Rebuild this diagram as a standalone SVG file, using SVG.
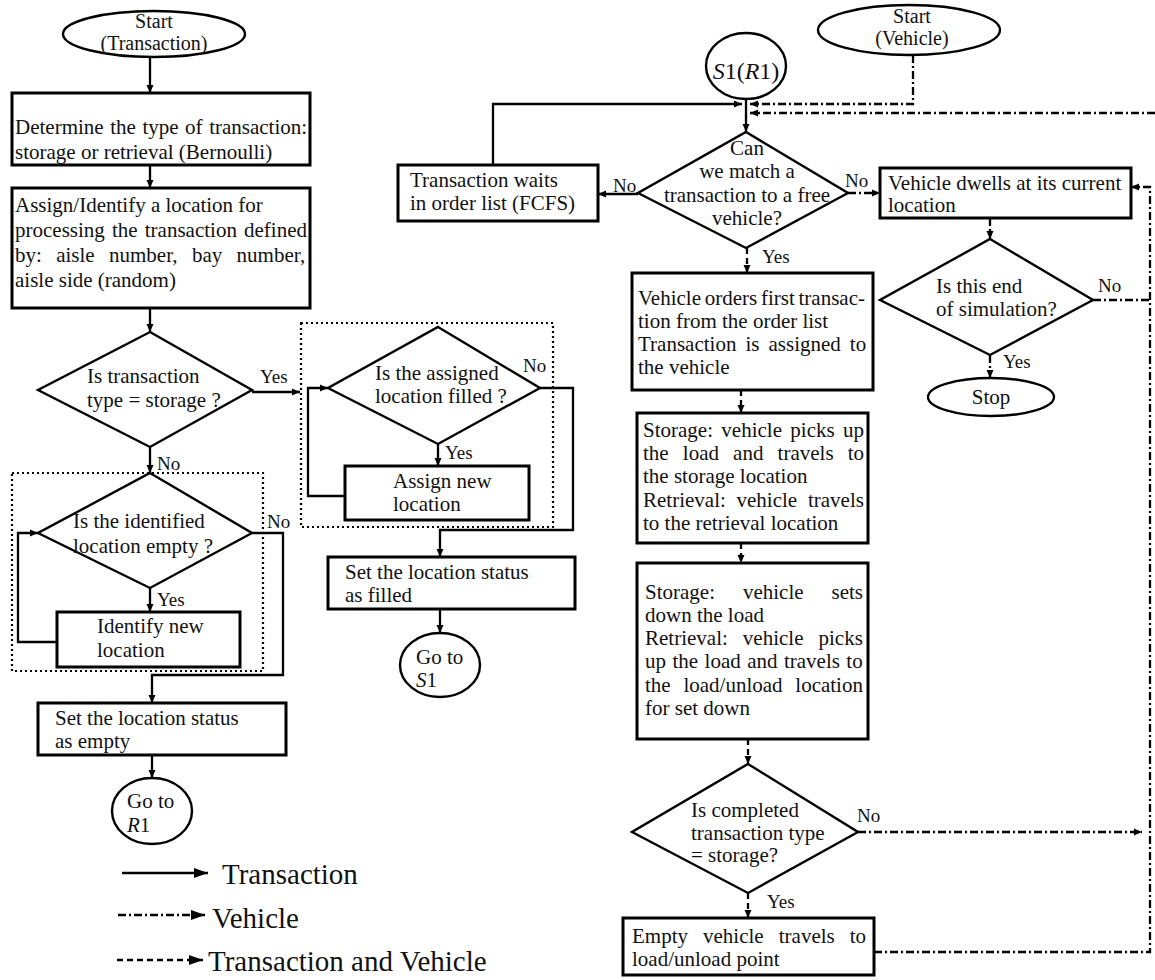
<svg xmlns="http://www.w3.org/2000/svg" width="1155" height="980" viewBox="0 0 1155 980">
<style>
.box{fill:#fff;stroke:#000;stroke-width:3}
.dia{fill:#fff;stroke:#000;stroke-width:2.4}
.t{font-family:"Liberation Serif","Times New Roman",serif;font-size:21px;fill:#111}
.m{text-anchor:middle}
.lbl{font-family:"Liberation Serif","Times New Roman",serif;font-size:19px;fill:#111}
.leg{font-family:"Liberation Serif","Times New Roman",serif;font-size:29px;fill:#111}
.c{fill:none;stroke:#000;stroke-width:2.3}
.a{marker-end:url(#ah)}
.dd{stroke-dasharray:8,3,2,3}
.ds{stroke-dasharray:6,4}
.dot{fill:none;stroke:#000;stroke-width:2.2;stroke-dasharray:2,3}
.it{font-style:italic}
</style>
<defs>
<marker id="ah" markerUnits="userSpaceOnUse" markerWidth="9" markerHeight="8" refX="8" refY="4" orient="auto"><path d="M0,0.5 L8,4 L0,7.5 z" fill="#000"/></marker>
<marker id="ahL" markerUnits="userSpaceOnUse" markerWidth="15" markerHeight="10" refX="14" refY="5" orient="auto"><path d="M0,0 L14,5 L0,10 z" fill="#000"/></marker>
</defs>
<rect width="1155" height="980" fill="#fff"/>

<g id="containers">
<rect class="dot" x="12" y="473" width="251" height="198"/>
<rect class="dot" x="301" y="323" width="252" height="204"/>
</g>

<g id="connectors">
<path class="c a" d="M150,57 V93"/>
<path class="c a" d="M150,165 V188"/>
<path class="c a" d="M150,308 V332"/>
<path class="c a" d="M252,392 H300"/>
<path class="c a" d="M150,447 V473"/>
<path class="c a" d="M57,642 H18 V533 H38"/>
<path class="c a" d="M252,533 H283 V675 H152 V703"/>
<path class="c a" d="M150,588 V612"/>
<path class="c a" d="M152,755 V778"/>
<path class="c a" d="M345,496 H308 V388 H328"/>
<path class="c a" d="M438,444 V466"/>
<path class="c a" d="M540,388 H573 V530 H440 V557"/>
<path class="c a" d="M440,609 V633"/>
<path class="c a" d="M493,165 V104 H742"/>
<path class="c a" d="M638,194 H598"/>
<path class="c a" d="M746,99 V132"/>
<path class="c a dd" d="M913,55 V104 H750"/>
<path class="c a dd" d="M1155,113 H750"/>
<path class="c a dd" d="M848,193 H880"/>
<path class="c a dd" d="M990,218 V239"/>
<path class="c dd" d="M1093,300 H1150"/>
<path class="c a dd" d="M990,355 V378"/>
<path class="c a dd" d="M858,832 H1142"/>
<path class="c a dd" d="M874,952 H1150 V187 H1131"/>
<path class="c a ds" d="M747,248 V273"/>
<path class="c a ds" d="M741,390 V413"/>
<path class="c a ds" d="M741,543 V563"/>
<path class="c a ds" d="M748,739 V764"/>
<path class="c a ds" d="M748,893 V918"/>
</g>

<g id="edge-labels">
<text class="lbl" x="260" y="383">Yes</text>
<text class="lbl" x="157" y="470">No</text>
<text class="lbl" x="267" y="528">No</text>
<text class="lbl" x="157" y="606">Yes</text>
<text class="lbl" x="523" y="372">No</text>
<text class="lbl" x="445" y="459">Yes</text>
<text class="lbl" x="613" y="192">No</text>
<text class="lbl" x="845" y="187">No</text>
<text class="lbl" x="762" y="263">Yes</text>
<text class="lbl" x="1098" y="292">No</text>
<text class="lbl" x="1003" y="368">Yes</text>
<text class="lbl" x="857" y="822">No</text>
<text class="lbl" x="767" y="908">Yes</text>
</g>

<g id="start-transaction">
<ellipse class="dia" cx="154" cy="34" rx="91" ry="23"/>
<text class="t m" x="154" y="28" style="font-size:20px">Start</text>
<text class="t m" x="154" y="50" style="font-size:20px">(Transaction)</text>
</g>

<g id="determine-type">
<rect class="box" x="12" y="93" width="298" height="72"/>
<text class="t" x="15" y="134" style="word-spacing:1.3px">Determine the type of transaction:</text>
<text class="t" x="15" y="159">storage or retrieval (Bernoulli)</text>
</g>

<g id="assign-location">
<rect class="box" x="12" y="188" width="298" height="120"/>
<text class="t" x="15" y="212">Assign/Identify a location for</text>
<text class="t" x="15" y="237" style="word-spacing:1.9px">processing the transaction defined</text>
<text class="t" x="15" y="262" style="word-spacing:9.1px">by: aisle number, bay number,</text>
<text class="t" x="15" y="287">aisle side (random)</text>
</g>

<g id="is-storage">
<polygon class="dia" points="150,332 252,390 150,447 38,390"/>
<text class="t" x="87" y="383">Is transaction</text>
<text class="t" x="87" y="407">type = storage ?</text>
</g>

<g id="is-empty">
<polygon class="dia" points="150,473 252,533 150,588 38,533"/>
<text class="t" x="73" y="528">Is the identified</text>
<text class="t" x="73" y="553">location empty ?</text>
</g>

<g id="identify-new">
<rect class="box" x="57" y="612" width="183" height="55"/>
<text class="t" x="97" y="633">Identify new</text>
<text class="t" x="97" y="657">location</text>
</g>

<g id="set-empty">
<rect class="box" x="38" y="703" width="248" height="52"/>
<text class="t" x="55" y="725">Set the location status</text>
<text class="t" x="55" y="748">as empty</text>
</g>

<g id="goto-r1">
<ellipse class="dia" cx="152" cy="811" rx="40" ry="33"/>
<text class="t" x="127" y="808">Go to</text>
<text class="t" x="127" y="832"><tspan class="it">R</tspan>1</text>
</g>

<g id="is-filled">
<polygon class="dia" points="438,327 540,388 438,444 328,388"/>
<text class="t" x="375" y="380">Is the assigned</text>
<text class="t" x="375" y="403">location filled ?</text>
</g>

<g id="assign-new">
<rect class="box" x="345" y="466" width="184" height="54"/>
<text class="t" x="393" y="488">Assign new</text>
<text class="t" x="393" y="511">location</text>
</g>

<g id="set-filled">
<rect class="box" x="328" y="557" width="247" height="52"/>
<text class="t" x="345" y="579">Set the location status</text>
<text class="t" x="345" y="602">as filled</text>
</g>

<g id="goto-s1">
<ellipse class="dia" cx="440" cy="665" rx="40" ry="32"/>
<text class="t" x="416" y="664">Go to</text>
<text class="t" x="416" y="687"><tspan class="it">S</tspan>1</text>
</g>

<g id="s1r1">
<ellipse class="dia" cx="746" cy="66" rx="40" ry="33"/>
<text class="t m" x="746" y="79" style="font-size:24px"><tspan class="it">S</tspan>1(<tspan class="it">R</tspan>1)</text>
</g>

<g id="start-vehicle">
<ellipse class="dia" cx="909" cy="30" rx="91" ry="25"/>
<text class="t m" x="912" y="23" style="font-size:20px">Start</text>
<text class="t m" x="912" y="45" style="font-size:20px">(Vehicle)</text>
</g>

<g id="can-match">
<polygon class="dia" points="746,132 848,193 746,248 638,193"/>
<text class="t m" x="747" y="155">Can</text>
<text class="t m" x="747" y="178">we match a</text>
<text class="t m" x="747" y="202">transaction to a free</text>
<text class="t m" x="747" y="225">vehicle?</text>
</g>

<g id="waits">
<rect class="box" x="398" y="165" width="200" height="56"/>
<text class="t" x="410" y="187">Transaction waits</text>
<text class="t" x="410" y="210">in order list (FCFS)</text>
</g>

<g id="dwells">
<rect class="box" x="880" y="168" width="251" height="50"/>
<text class="t" x="888" y="190">Vehicle dwells at its current</text>
<text class="t" x="888" y="212">location</text>
</g>

<g id="end-sim">
<polygon class="dia" points="990,239 1093,300 990,355 880,300"/>
<text class="t" x="936" y="293">Is this end</text>
<text class="t" x="936" y="316">of simulation?</text>
</g>

<g id="stop">
<ellipse class="dia" cx="991" cy="397" rx="63" ry="19"/>
<text class="t m" x="991" y="404">Stop</text>
</g>

<g id="orders-first">
<rect class="box" x="632" y="273" width="241" height="117"/>
<text class="t" x="638" y="305" style="word-spacing:-1.5px">Vehicle orders first transac-</text>
<text class="t" x="638" y="328">tion from the order list</text>
<text class="t" x="638" y="351" style="word-spacing:3.8px">Transaction is assigned to</text>
<text class="t" x="638" y="374">the vehicle</text>
</g>

<g id="picks-up">
<rect class="box" x="637" y="413" width="231" height="130"/>
<text class="t" x="643" y="437" style="word-spacing:3.1px">Storage: vehicle picks up</text>
<text class="t" x="643" y="460" style="word-spacing:8.9px">the load and travels to</text>
<text class="t" x="643" y="483">the storage location</text>
<text class="t" x="643" y="507" style="word-spacing:5.5px">Retrieval: vehicle travels</text>
<text class="t" x="643" y="530">to the retrieval location</text>
</g>

<g id="sets-down">
<rect class="box" x="637" y="563" width="231" height="176"/>
<text class="t" x="645" y="599" style="word-spacing:22.7px">Storage: vehicle sets</text>
<text class="t" x="645" y="622">down the load</text>
<text class="t" x="645" y="645" style="word-spacing:9.8px">Retrieval: vehicle picks</text>
<text class="t" x="645" y="668" style="word-spacing:1.2px">up the load and travels to</text>
<text class="t" x="645" y="692" style="word-spacing:7.5px">the load/unload location</text>
<text class="t" x="645" y="715">for set down</text>
</g>

<g id="is-completed">
<polygon class="dia" points="748,764 858,832 748,893 632,832"/>
<text class="t" x="691" y="817">Is completed</text>
<text class="t" x="691" y="840">transaction type</text>
<text class="t" x="691" y="862">= storage?</text>
</g>

<g id="empty-travels">
<rect class="box" x="623" y="918" width="251" height="57"/>
<text class="t" x="632" y="943" style="word-spacing:9.8px">Empty vehicle travels to</text>
<text class="t" x="632" y="966">load/unload point</text>
</g>

<g id="legend">
<path class="c" d="M122,873 H208" marker-end="url(#ahL)"/>
<text class="leg" x="222" y="884">Transaction</text>
<path class="c dd" d="M118,915 H205" marker-end="url(#ahL)"/>
<text class="leg" x="212" y="928">Vehicle</text>
<path class="c ds" d="M117,960 H203" marker-end="url(#ahL)"/>
<text class="leg" x="208" y="971">Transaction and Vehicle</text>
</g>
</svg>
